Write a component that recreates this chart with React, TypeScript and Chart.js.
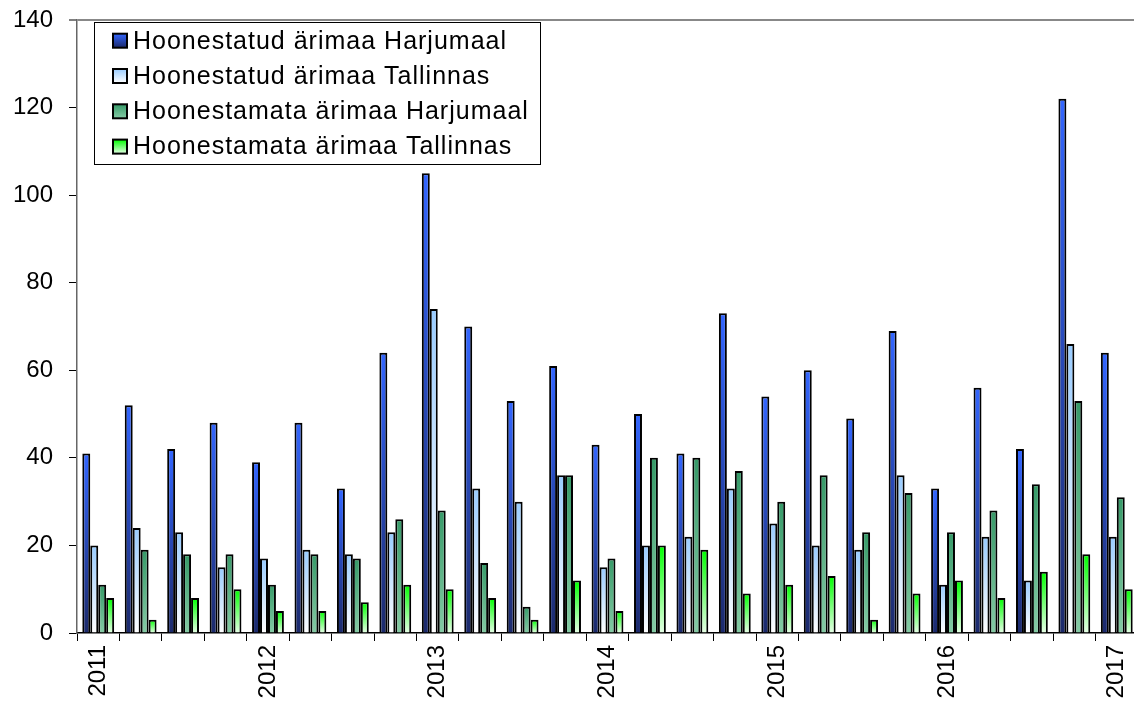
import React, { useEffect, useRef } from 'react';
import { Chart, registerables } from 'chart.js';

Chart.register(...registerables);

const categories = [
  '2011 I', '2011 II', '2011 III', '2011 IV',
  '2012 I', '2012 II', '2012 III', '2012 IV',
  '2013 I', '2013 II', '2013 III', '2013 IV',
  '2014 I', '2014 II', '2014 III', '2014 IV',
  '2015 I', '2015 II', '2015 III', '2015 IV',
  '2016 I', '2016 II', '2016 III', '2016 IV',
  '2017 I',
];

const tickLabels = [
  '2011', '', '', '',
  '2012', '', '', '',
  '2013', '', '', '',
  '2014', '', '', '',
  '2015', '', '', '',
  '2016', '', '', '',
  '2017',
];

const seriesNames = [
  'Hoonestatud ärimaa Harjumaal',
  'Hoonestatud ärimaa Tallinnas',
  'Hoonestamata ärimaa Harjumaal',
  'Hoonestamata ärimaa Tallinnas',
];

const builtHarju = [41, 52, 42, 48, 39, 48, 33, 64, 105, 70, 53, 61, 43, 50, 41, 73, 54, 60, 49, 69, 33, 56, 42, 122, 64];
const builtTallinn = [20, 24, 23, 15, 17, 19, 18, 23, 74, 33, 30, 36, 15, 20, 22, 33, 25, 20, 19, 36, 11, 22, 12, 66, 22];
const unbuiltHarju = [11, 19, 18, 18, 11, 18, 17, 26, 28, 16, 6, 36, 17, 40, 40, 37, 30, 36, 23, 32, 23, 28, 34, 53, 31];
const unbuiltTallinn = [8, 3, 8, 10, 5, 5, 7, 11, 10, 8, 3, 12, 5, 20, 19, 9, 11, 13, 3, 9, 12, 8, 14, 18, 10];

const yTicks = [0, 20, 40, 60, 80, 100, 120, 140];

const topColors = ['#3366FF', '#99CCFF', '#369A68', '#00FF00'];
const bottomColors = ['#1C2A6B', '#FFFFFF', '#85CBA5', '#E6FFE6'];

const FONT = "'Liberation Sans', Arial, Helvetica, sans-serif";

export default function App() {
  const ref = useRef<HTMLCanvasElement>(null);

  useEffect(() => {
    const canvas = ref.current;
    if (!canvas) return;
    const series = [builtHarju, builtTallinn, unbuiltHarju, unbuiltTallinn];

    const makeBg = (i: number) => (ctx: any) => {
      const chart = ctx.chart;
      const area = chart.chartArea;
      const ys = chart.scales && chart.scales.y;
      if (!area || !ys || ctx.type !== 'data') return topColors[i];
      const top = ys.getPixelForValue(ctx.raw);
      const bot = ys.getPixelForValue(0);
      if (!isFinite(top) || !isFinite(bot) || Math.abs(bot - top) < 1) return topColors[i];
      const g = chart.ctx.createLinearGradient(0, top, 0, bot);
      g.addColorStop(0, topColors[i]);
      g.addColorStop(1, bottomColors[i]);
      return g;
    };

    const legendPlugin = {
      id: 'boxLegend',
      afterDraw(chart: any) {
        const c = chart.ctx as CanvasRenderingContext2D;
        c.save();
        const bx = 94.5, by = 22.5, bw = 446, bh = 142;
        c.fillStyle = '#fff';
        c.fillRect(bx, by, bw, bh);
        c.strokeStyle = '#000';
        c.lineWidth = 1;
        c.strokeRect(bx, by, bw, bh);
        chart.data.datasets.forEach((ds: any, i: number) => {
          const cy = 40.7 + i * 35.3;
          const mx = 113, ms = 14;
          const my = cy - ms / 2;
          const g = c.createLinearGradient(0, my, 0, my + ms);
          g.addColorStop(0, topColors[i]);
          g.addColorStop(1, bottomColors[i]);
          c.fillStyle = g;
          c.fillRect(mx, my, ms, ms);
          c.strokeStyle = '#000';
          c.lineWidth = 2;
          c.strokeRect(mx, my, ms, ms);
          c.fillStyle = '#000';
          c.font = `25px ${FONT}`;
          (c as any).letterSpacing = '1px';
          c.textAlign = 'left';
          c.textBaseline = 'middle';
          c.fillText(ds.label, 133, cy + 1);
          (c as any).letterSpacing = '0px';
        });
        c.restore();
      },
    };

    const chart = new Chart(canvas, {
      type: 'bar',
      data: {
        labels: categories,
        datasets: series.map((data, i) => ({
          label: seriesNames[i],
          data,
          backgroundColor: makeBg(i),
          borderColor: '#000',
          borderWidth: 2,
          categoryPercentage: 0.75,
          barPercentage: 1.0,
        })),
      },
      options: {
        responsive: false,
        animation: false,
        devicePixelRatio: 1,
        layout: { padding: { top: 20, left: 0, right: 0, bottom: 0 } },
        plugins: {
          legend: { display: false },
          tooltip: { enabled: false },
        },
        scales: {
          x: {
            type: 'category',
            offset: true,
            grid: {
              offset: true,
              drawOnChartArea: false,
              drawTicks: true,
              tickLength: 8,
              color: '#000',
              tickColor: '#000',
              lineWidth: 1,
            },
            border: { color: '#000', width: 1.5 },
            ticks: {
              autoSkip: false,
              maxRotation: 90,
              minRotation: 90,
              padding: 4,
              color: '#000',
              font: { family: FONT, size: 24 },
              callback: (_v: any, i: number) => tickLabels[i],
            },
            afterFit: (s: any) => {
              s.height = 71;
              s.paddingLeft = 0;
              s.paddingRight = 0;
            },
          },
          y: {
            min: 0,
            max: 140,
            afterBuildTicks: (s: any) => {
              s.ticks = yTicks.map((v) => ({ value: v }));
            },
            grid: {
              color: (ctx: any) => (ctx.tick && ctx.tick.value === 140 ? '#888' : 'rgba(0,0,0,0)'),
              lineWidth: (ctx: any) => (ctx.tick && ctx.tick.value === 140 ? 2 : 1),
              tickColor: '#000',
              tickLength: 8,
              tickWidth: 1,
            },
            border: { color: '#666', width: 1.5 },
            ticks: {
              padding: 16,
              color: '#000',
              font: { family: FONT, size: 24 },
            },
            afterFit: (s: any) => {
              s.width = 77;
              s.paddingTop = 0;
              s.paddingBottom = 0;
            },
          },
        },
      },
      plugins: [legendPlugin],
    } as any);

    return () => chart.destroy();
  }, []);

  return (
    <div
      style={{
        position: 'absolute',
        left: 0,
        top: 0,
        width: 1134,
        height: 704,
        overflow: 'hidden',
        background: '#fff',
      }}
    >
      <canvas ref={ref} width={1138} height={704} style={{ display: 'block' }} />
    </div>
  );
}
